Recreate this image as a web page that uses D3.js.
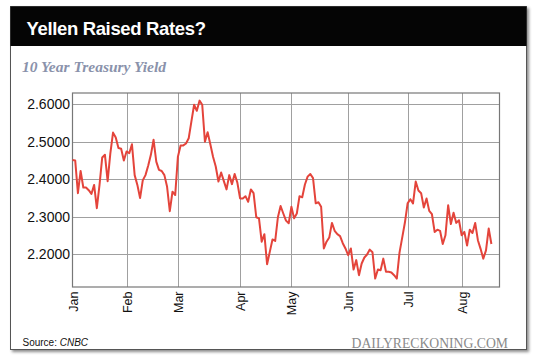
<!DOCTYPE html>
<html><head><meta charset="utf-8">
<script src="https://cdn.jsdelivr.net/npm/d3@7"></script>
<style>body{margin:0;background:#fff}svg{display:block}</style>
</head><body>
<svg id="c" width="540" height="356"></svg>
<script>
const title = "Yellen Raised Rates?";
const subtitle = "10 Year Treasury Yield";
const yields = [
2.451,2.45,2.363,2.422,2.378,2.378,2.371,2.361,2.385,2.323,
2.385,2.458,2.465,2.395,2.469,2.524,2.511,2.483,2.481,2.45,
2.474,2.469,2.493,2.411,2.385,2.35,2.397,2.411,2.436,2.465,
2.505,2.447,2.425,2.422,2.411,2.38,2.315,2.367,2.358,2.46,
2.49,2.49,2.495,2.509,2.554,2.598,2.582,2.609,2.598,2.5,
2.525,2.493,2.46,2.434,2.394,2.418,2.395,2.373,2.411,2.387,
2.414,2.391,2.349,2.349,2.355,2.34,2.373,2.363,2.299,2.296,
2.234,2.254,2.174,2.207,2.24,2.236,2.299,2.329,2.309,2.29,
2.283,2.327,2.296,2.309,2.355,2.352,2.386,2.407,2.414,2.403,
2.336,2.339,2.327,2.216,2.234,2.245,2.284,2.263,2.254,2.249,
2.23,2.216,2.198,2.216,2.16,2.185,2.145,2.176,2.192,2.2,
2.213,2.206,2.136,2.16,2.158,2.189,2.154,2.154,2.152,2.145,
2.136,2.205,2.245,2.285,2.336,2.347,2.336,2.394,2.37,2.363,
2.325,2.349,2.316,2.307,2.26,2.266,2.263,2.228,2.251,2.331,
2.281,2.311,2.284,2.291,2.251,2.26,2.224,2.266,2.257,2.284,
2.238,2.215,2.189,2.211,2.269,2.228
];
const months = ["Jan","Feb","Mar","Apr","May","Jun","Jul","Aug"];
const monthStart = [0,20,39,62,81,102,124,144];
const yTicks = [2.2,2.3,2.4,2.5,2.6];
const sourceName = "CNBC";
const brand = "DAILYRECKONING.COM";

const svg = d3.select("#c");
const defs = svg.append("defs");
const f = defs.append("filter").attr("id","sh").attr("x","-5%").attr("y","-5%").attr("width","110%").attr("height","110%");
f.append("feDropShadow").attr("dx",2).attr("dy",2).attr("stdDeviation",1.5).attr("flood-color","#000").attr("flood-opacity",0.45);

// card
svg.append("rect").attr("x",10.5).attr("y",6.5).attr("width",516).attr("height",343)
  .attr("fill","#fff").attr("stroke","#555").attr("stroke-width",1).attr("filter","url(#sh)");
svg.append("rect").attr("x",10.5).attr("y",6.5).attr("width",516).attr("height",39.5).attr("fill","#050505");
svg.append("text").attr("x",26.5).attr("y",35).attr("fill","#fff")
  .attr("font-family","Liberation Sans, Arial, sans-serif").attr("font-weight","bold")
  .attr("font-size","18.5px").attr("letter-spacing","-0.35px").text(title);
svg.append("text").attr("x",22).attr("y",72).attr("fill","#8a92ab")
  .attr("font-family","Liberation Serif, Times New Roman, serif").attr("font-weight","bold").attr("font-style","italic")
  .attr("font-size","15.5px").text(subtitle);

const x = d3.scaleLinear().domain([0,158]).range([72.5,499.5]);
const y = d3.scaleLinear().domain([2.1136,2.6293]).range([287,93]);

// grid
const g = svg.append("g");
g.selectAll(".hg").data(yTicks).join("line")
  .attr("x1",x.range()[0]).attr("x2",x.range()[1])
  .attr("y1",d=>Math.round(y(d))+0.5).attr("y2",d=>Math.round(y(d))+0.5)
  .attr("stroke","#a0a0a0").attr("stroke-width",1);
g.selectAll(".vg").data(monthStart.slice(1)).join("line")
  .attr("x1",d=>Math.round(x(d))+0.5).attr("x2",d=>Math.round(x(d))+0.5)
  .attr("y1",93).attr("y2",287)
  .attr("stroke","#a0a0a0").attr("stroke-width",1);

// frame
svg.append("rect").attr("x",72.5).attr("y",93).attr("width",427).attr("height",194)
  .attr("fill","none").attr("stroke","#777").attr("stroke-width",1.2);

// y axis
const ya = svg.append("g").attr("transform","translate(70,0)")
  .call(d3.axisLeft(y).tickValues(yTicks).tickFormat(d3.format(".4f")).tickSize(0).tickPadding(0));
ya.select(".domain").remove();
ya.selectAll("text").attr("font-family","Liberation Sans, Arial, sans-serif").attr("font-size","14px").attr("fill","#111");

// x axis
const xa = svg.append("g").attr("transform","translate(0,287)")
  .call(d3.axisBottom(x).tickValues(monthStart).tickFormat((d,i)=>months[i]).tickSize(0));
xa.select(".domain").remove();
xa.selectAll("text").attr("transform","rotate(-90)").attr("x",-4.5).attr("y",0).attr("dy","0.36em")
  .attr("text-anchor","end").attr("font-family","Liberation Sans, Arial, sans-serif")
  .attr("font-size","12.5px").attr("fill","#111");

// line
svg.append("path").datum(yields)
  .attr("d", d3.line().x((d,i)=>x(i)).y(d=>y(d)))
  .attr("fill","none").attr("stroke","#e4443b").attr("stroke-width",2).attr("stroke-linejoin","round");

// footer
const src = svg.append("text").attr("x",22.5).attr("y",345.5)
  .attr("font-family","Liberation Sans, Arial, sans-serif").attr("font-size","10px").attr("fill","#111");
src.append("tspan").text("Source: ");
src.append("tspan").attr("font-style","italic").text(sourceName);
svg.append("text").attr("x",508).attr("y",347.5).attr("text-anchor","end")
  .attr("font-family","Liberation Serif, Times New Roman, serif").attr("font-size","13.7px").attr("fill","#8a8a8a")
  .text(brand);
</script>
</body></html>
